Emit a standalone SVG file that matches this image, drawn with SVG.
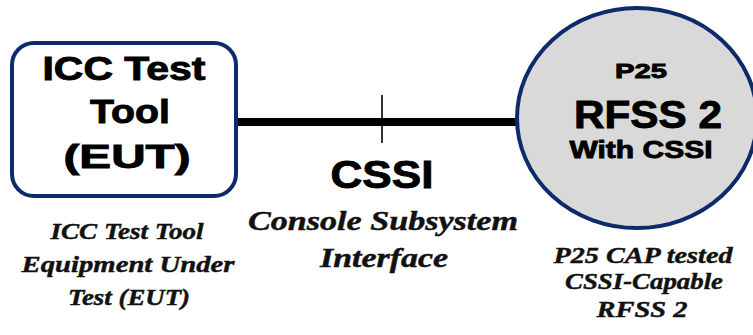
<svg xmlns="http://www.w3.org/2000/svg" width="753" height="335" viewBox="0 0 753 335">
  <style>
    .head { font-family: "Liberation Sans", Arial, sans-serif; font-weight: bold; fill: #000; stroke: #000; stroke-width: 0.9; text-anchor: middle; }
    .note { font-family: "Liberation Serif", "Times New Roman", serif; font-weight: bold; font-style: italic; fill: #111; stroke: #111; stroke-width: 0.45; text-anchor: middle; }
    .edge { stroke: #0d2a6b; stroke-width: 4; }
    .box { fill: #ffffff; }
    .disc { fill: #d9d9d9; }
  </style>

  <!-- link between the two systems -->
  <g id="connectors">
    <line x1="236" y1="122" x2="518" y2="122" stroke="#000" stroke-width="8"/>
    <line x1="382" y1="95" x2="382" y2="143" stroke="#000" stroke-width="1.6"/>
  </g>

  <!-- equipment under test -->
  <g id="eut">
    <rect class="edge box" x="12" y="43" width="224" height="153" rx="22" ry="22"/>
    <text class="head" x="124" y="80" font-size="33" textLength="163" lengthAdjust="spacingAndGlyphs">ICC Test</text>
    <text class="head" x="130" y="123" font-size="33" textLength="80" lengthAdjust="spacingAndGlyphs">Tool</text>
    <text class="head" x="127" y="168" font-size="33" textLength="127" lengthAdjust="spacingAndGlyphs">(EUT)</text>
  </g>

  <!-- RF subsystem -->
  <g id="rfss">
    <ellipse class="edge disc" cx="637" cy="118" rx="120" ry="110"/>
    <text class="head" x="641" y="78" font-size="21" textLength="52" lengthAdjust="spacingAndGlyphs">P25</text>
    <text class="head" x="648" y="128" font-size="38" textLength="148" lengthAdjust="spacingAndGlyphs">RFSS 2</text>
    <text class="head" x="641" y="158" font-size="24" textLength="143" lengthAdjust="spacingAndGlyphs">With CSSI</text>
  </g>

  <!-- interface label -->
  <g id="cssi-label">
    <text class="head" x="382" y="188" font-size="39" textLength="103" lengthAdjust="spacingAndGlyphs">CSSI</text>
    <text class="note" x="383" y="230" font-size="27" textLength="270" lengthAdjust="spacingAndGlyphs">Console Subsystem</text>
    <text class="note" x="384" y="267" font-size="27" textLength="128" lengthAdjust="spacingAndGlyphs">Interface</text>
  </g>

  <!-- captions -->
  <g id="eut-caption">
    <text class="note" x="127" y="239" font-size="24" textLength="153" lengthAdjust="spacingAndGlyphs">ICC Test Tool</text>
    <text class="note" x="128" y="272" font-size="24" textLength="213" lengthAdjust="spacingAndGlyphs">Equipment Under</text>
    <text class="note" x="129" y="305" font-size="24" textLength="122" lengthAdjust="spacingAndGlyphs">Test (EUT)</text>
  </g>
  <g id="rfss-caption">
    <text class="note" x="643" y="263" font-size="24" textLength="179" lengthAdjust="spacingAndGlyphs">P25 CAP tested</text>
    <text class="note" x="644" y="289" font-size="24" textLength="158" lengthAdjust="spacingAndGlyphs">CSSI-Capable</text>
    <text class="note" x="642" y="317" font-size="24" textLength="91" lengthAdjust="spacingAndGlyphs">RFSS 2</text>
  </g>
</svg>
